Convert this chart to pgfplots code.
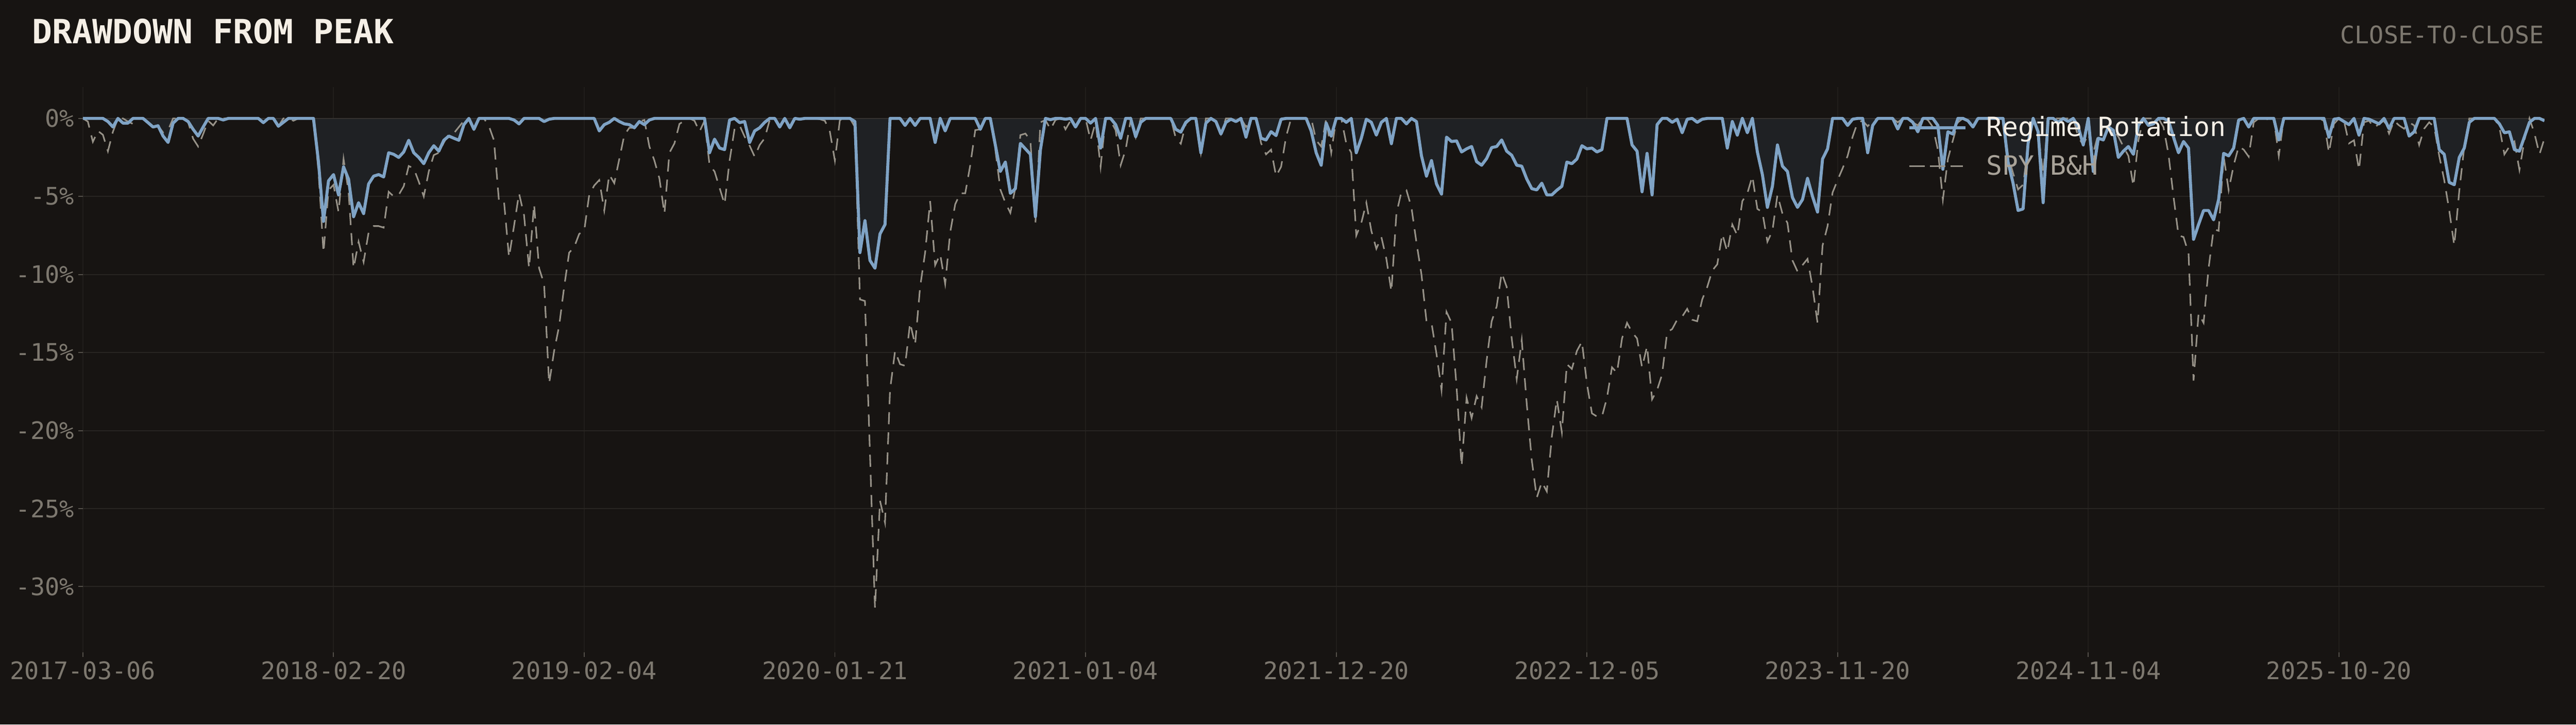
\documentclass[border=0pt]{standalone}
\usepackage{fontspec}
\setmainfont{DejaVu Sans Mono}
\usepackage{pgfplots}
\pgfplotsset{compat=1.18}
\usepackage{pgfplotstable}
\definecolor{bg}{HTML}{171412}
\definecolor{blueline}{HTML}{7FA3C5}
\definecolor{bluefill}{HTML}{1F2124}
\definecolor{spy}{HTML}{979288}
\definecolor{hgrid}{HTML}{282522}
\definecolor{vgrid}{HTML}{211E1B}
\definecolor{zeroline}{HTML}{353230}
\definecolor{ticklab}{HTML}{7D786F}
\definecolor{cream}{HTML}{F5EFE6}
\definecolor{legspy}{HTML}{A8A298}

\pgfplotstableread[row sep=\\]{
b s\\
0 0\\ 0 -0.2\\ 0 -1.5\\ 0 -0.8\\ 0 -1.05\\ -0.2 -2.1\\ -0.55 -0.85\\ 0 0\\ -0.3 0\\ -0.3 -0.2\\
0 -0.35\\ 0 0\\ 0 0\\ -0.27 -0.27\\ -0.55 -0.55\\ -0.47 -0.47\\ -1.13 -0.9\\ -1.54 -0.75\\ -0.3 0\\ 0 0\\
0 0\\ -0.2 -0.25\\ -0.7 -1.3\\ -1.13 -1.8\\ -0.55 -1.0\\ 0 -0.15\\ 0 -0.45\\ 0 0\\ -0.1 0\\ 0 0\\
0 0\\ 0 0\\ 0 0\\ 0 0\\ 0 0\\ 0 0\\ -0.27 -0.27\\ 0 0\\ 0 0\\ -0.5 -0.5\\
-0.25 0\\ 0 0\\ 0 -0.15\\ 0 0\\ 0 0\\ 0 0\\ 0 0\\ -2.8 -3.4\\ -6.6 -8.6\\ -4.0 -4.6\\
-3.6 -4.25\\ -4.9 -6.0\\ -3.1 -2.6\\ -3.9 -4.7\\ -6.3 -9.6\\ -5.4 -7.9\\ -6.1 -9.2\\ -4.2 -7.3\\ -3.7 -6.9\\ -3.6 -6.9\\
-3.75 -7.0\\ -2.2 -4.7\\ -2.3 -5.0\\ -2.5 -4.9\\ -2.15 -4.35\\ -1.4 -3.05\\ -2.2 -3.2\\ -2.5 -4.05\\ -2.9 -5.0\\ -2.2 -3.4\\
-1.75 -2.35\\ -2.1 -2.2\\ -1.4 -1.55\\ -1.13 -1.0\\ -1.27 -0.95\\ -1.4 -0.55\\ -0.4 -0.15\\ 0 0\\ -0.7 -0.7\\ 0 0\\
0 0\\ 0 -0.5\\ 0 -1.4\\ 0 -5.3\\ 0 -5.3\\ 0 -8.9\\ -0.1 -6.9\\ -0.35 -4.8\\ 0 -6.2\\ 0 -9.6\\
0 -5.5\\ 0 -9.6\\ -0.2 -10.6\\ -0.05 -17.0\\ 0 -14.9\\ 0 -13.3\\ 0 -10.8\\ 0 -8.6\\ 0 -8.25\\ 0 -7.4\\
0 -7.2\\ 0 -4.9\\ 0 -4.3\\ -0.8 -3.95\\ -0.4 -5.9\\ -0.25 -3.6\\ 0 -4.15\\ -0.2 -2.6\\ -0.35 -1.07\\ -0.4 -0.6\\
-0.6 -0.6\\ -0.2 -0.2\\ -0.4 -0.1\\ -0.1 -1.8\\ 0 -2.7\\ 0 -3.85\\ 0 -6.1\\ 0 -2.2\\ 0 -1.6\\ 0 -0.35\\
0 -0.15\\ 0 0\\ 0 -0.15\\ 0 -0.85\\ 0 -0.15\\ -2.2 -3.0\\ -1.33 -3.4\\ -1.9 -4.45\\ -2.0 -5.5\\ -0.1 -2.7\\
0 -0.65\\ -0.27 -0.45\\ -0.2 -1.17\\ -1.54 -1.75\\ -0.8 -2.45\\ -0.6 -1.7\\ -0.25 -1.27\\ 0 -0.1\\ 0 0\\ -0.55 -0.55\\
0 0\\ -0.6 -0.6\\ 0 0\\ -0.05 0\\ 0 0\\ 0 0\\ 0 0\\ 0 -0.05\\ 0 -0.15\\ 0 -0.85\\
0 -2.7\\ 0 -0.1\\ 0 0\\ 0 0\\ -0.2 -0.55\\ -8.6 -11.6\\ -6.55 -11.7\\ -9.1 -21.5\\ -9.6 -31.4\\ -7.4 -24.5\\
-6.8 -25.9\\ 0 -17.4\\ 0 -14.9\\ 0 -15.75\\ -0.45 -15.85\\ 0 -13.1\\ -0.45 -14.5\\ 0 -10.8\\ 0 -8.6\\ 0 -5.3\\
-1.54 -9.4\\ 0 -8.7\\ -0.8 -10.6\\ 0 -7.3\\ 0 -5.5\\ 0 -4.8\\ 0 -4.8\\ 0 -3.0\\ 0 -0.75\\ -0.7 -0.7\\
0 0\\ 0 0\\ -1.7 -2.0\\ -3.4 -4.55\\ -2.8 -5.4\\ -4.8 -6.05\\ -4.5 -4.45\\ -1.6 -1.07\\ -1.95 -0.97\\ -2.3 -1.4\\
-6.3 -6.7\\ -2.0 -0.25\\ 0 -0.1\\ -0.08 -0.7\\ 0 -0.1\\ 0 0\\ -0.05 -0.7\\ 0 -0.15\\ -0.55 -0.55\\ 0 0\\
0 0\\ -0.3 -1.4\\ 0 -0.25\\ -1.9 -3.1\\ 0 0\\ 0 -0.15\\ -0.4 -0.75\\ -1.27 -3.0\\ 0 -2.0\\ 0 -0.1\\
-1.17 -1.2\\ -0.25 0\\ 0 0\\ 0 0\\ 0 0\\ 0 0\\ 0 0\\ 0 0\\ -0.7 -1.27\\ -0.88 -1.62\\
-0.25 -0.35\\ 0 0\\ 0 0\\ -2.2 -2.2\\ -0.3 0\\ 0 0\\ -0.2 -0.15\\ -1.0 -1.0\\ -0.25 0\\ -0.05 0\\
-0.2 -0.15\\ 0 0\\ -1.2 -0.55\\ 0 0\\ 0 0\\ -1.27 -1.58\\ -1.38 -2.3\\ -0.85 -2.0\\ -1.1 -3.7\\ -0.05 -3.1\\
0 -1.17\\ 0 0\\ 0 0\\ 0 0\\ 0 0\\ -0.8 0\\ -2.2 -1.4\\ -3.0 -1.8\\ -0.3 0\\ -1.13 -2.2\\
0 0\\ 0 0\\ -0.25 -1.6\\ 0 -2.2\\ -2.2 -7.5\\ -1.27 -6.7\\ -0.05 -5.4\\ -0.25 -7.2\\ -1.07 -8.35\\ -0.25 -7.6\\
0 -9.0\\ -1.62 -11.1\\ 0 -6.1\\ 0 -4.7\\ -0.35 -4.6\\ 0 -5.7\\ -0.2 -7.95\\ -2.4 -10.0\\ -3.7 -13.0\\ -2.7 -13.1\\
-4.2 -15.1\\ -4.85 -17.4\\ -1.2 -12.4\\ -1.48 -13.1\\ -1.44 -17.2\\ -2.15 -22.3\\ -1.95 -17.9\\ -1.8 -19.2\\ -2.77 -17.8\\ -3.0 -18.5\\
-2.57 -15.5\\ -1.87 -13.0\\ -1.8 -12.05\\ -1.38 -9.9\\ -2.1 -10.8\\ -2.36 -14.1\\ -3.0 -16.7\\ -3.06 -14.2\\ -3.88 -18.3\\ -4.5 -21.9\\
-4.58 -24.3\\ -4.15 -23.3\\ -4.9 -23.9\\ -4.9 -20.4\\ -4.6 -18.0\\ -4.35 -20.1\\ -2.8 -15.75\\ -2.9 -16.05\\ -2.6 -14.9\\ -1.75 -14.3\\
-1.95 -17.0\\ -1.9 -18.9\\ -2.15 -19.1\\ -2.0 -19.1\\ 0 -17.9\\ 0 -15.95\\ 0 -16.3\\ 0 -14.1\\ 0 -13.1\\ -1.7 -13.7\\
-2.1 -14.1\\ -4.7 -15.95\\ -2.24 -14.6\\ -4.9 -18.0\\ -0.4 -17.4\\ 0 -16.4\\ 0 -13.7\\ -0.25 -13.5\\ -0.05 -12.9\\ -0.92 -12.7\\
-0.05 -12.2\\ 0 -12.9\\ -0.25 -13.0\\ -0.05 -11.6\\ 0 -10.8\\ 0 -9.75\\ 0 -9.35\\ 0 -7.4\\ -1.9 -8.55\\ -0.2 -6.8\\
-1.07 -7.5\\ 0 -5.3\\ -0.92 -4.8\\ 0 -3.7\\ -2.15 -5.8\\ -3.6 -6.0\\ -5.7 -7.9\\ -4.35 -7.2\\ -1.7 -4.9\\ -3.06 -6.1\\
-3.4 -6.7\\ -5.07 -9.1\\ -5.7 -9.8\\ -5.2 -9.4\\ -3.84 -9.0\\ -5.0 -10.8\\ -6.0 -13.1\\ -2.6 -8.15\\ -1.95 -6.9\\ 0 -4.75\\
0 -3.95\\ 0 -3.2\\ -0.45 -2.4\\ -0.05 -1.17\\ 0 -0.25\\ 0 -0.15\\ -2.2 -0.5\\ -0.45 -0.15\\ 0 0\\ 0 0\\
0 0\\ 0 0\\ -0.68 -0.25\\ 0 0\\ 0 0\\ -0.25 -0.25\\ -0.86 -0.45\\ 0 0\\ 0 -0.1\\ 0 -0.55\\
-0.45 -2.0\\ -3.26 -5.2\\ -0.86 -2.6\\ -1.0 -1.4\\ 0 -0.25\\ 0 0\\ -0.15 -0.15\\ -0.55 -0.45\\ 0 0\\ 0 0\\
0 0\\ 0 0\\ 0 0\\ 0 0\\ -2.8 -2.4\\ -4.15 -3.5\\ -5.9 -4.55\\ -5.8 -4.25\\ -1.6 -1.8\\ 0 0\\
-0.86 -0.86\\ -5.4 -3.6\\ 0 0\\ 0 0\\ -0.25 0\\ 0 0\\ -0.2 0\\ 0 0\\ -0.55 -1.2\\ -1.7 -1.7\\
0 -1.0\\ -3.4 -2.2\\ -1.27 -1.0\\ -1.38 -0.55\\ -0.55 -0.55\\ -0.76 -0.76\\ -2.5 -1.17\\ -2.1 -1.8\\ -1.8 -2.4\\ -2.3 -4.35\\
-0.45 -1.4\\ 0 0\\ -0.45 0\\ -0.35 0\\ 0 0\\ 0 -0.55\\ -0.15 -2.3\\ -1.2 -5.0\\ -2.2 -7.5\\ -1.48 -7.6\\
-1.9 -8.65\\ -7.75 -16.8\\ -6.8 -12.5\\ -5.9 -13.1\\ -5.9 -9.6\\ -6.5 -7.1\\ -5.2 -7.2\\ -2.24 -2.4\\ -2.4 -4.6\\ -1.9 -3.0\\
-0.1 -1.8\\ 0 -2.0\\ -0.55 -2.45\\ 0 -0.25\\ 0 0\\ 0 -0.15\\ 0 0\\ 0 0\\ -1.38 -2.4\\ 0 0\\
0 0\\ 0 0\\ 0 0\\ 0 0\\ 0 0\\ 0 0\\ 0 0\\ 0 -0.15\\ -1.2 -2.2\\ -0.05 -0.35\\
0 0\\ -0.2 -0.15\\ -0.4 -1.6\\ 0 -1.4\\ -1.07 -3.3\\ 0 -0.25\\ -0.05 -0.15\\ -0.2 -0.6\\ -0.35 -0.35\\ 0 -0.15\\
-0.66 -0.97\\ 0 -0.15\\ 0 -0.45\\ 0 -0.66\\ -1.13 -0.25\\ -0.86 -0.45\\ 0 -1.7\\ 0 -0.66\\ 0 -0.25\\ 0 -0.55\\
-2.0 -2.4\\ -2.3 -3.95\\ -4.1 -5.9\\ -4.25 -8.15\\ -2.5 -4.65\\ -1.9 -1.8\\ -0.25 0\\ 0 0\\ 0 0\\ 0 0\\
0 0\\ 0 0\\ -0.35 -0.55\\ -0.92 -2.3\\ -0.86 -1.8\\ -2.0 -1.48\\ -2.1 -3.3\\ -1.17 -1.4\\ -0.25 0\\ 0 -0.97\\
0 -2.3\\ -0.15 -1.27\\
}\dd

\begin{document}
\begin{tikzpicture}[x=1pt,y=1pt]
\fill[bg] (0,0) rectangle (768,216);
\useasboundingbox (0,0) rectangle (768,216);
\node[anchor=base west, font=\fontsize{9.95}{11}\selectfont\bfseries, text=cream, inner sep=0pt] at (9.4,203) {DRAWDOWN FROM PEAK};
\node[anchor=base east, font=\fontsize{7.2}{8.5}\selectfont, text=ticklab, inner sep=0pt] at (758.6,203) {CLOSE-TO-CLOSE};
\begin{axis}[
  at={(24.7pt,21.6pt)}, anchor=south west,
  scale only axis, width=733.9pt, height=168.4pt,
  xmin=0, xmax=491, ymin=-34.2, ymax=2,
  axis line style={draw=none},
  xtick={0,50,100,150,200,250,300,350,400,450},
  xticklabels={2017-03-06,2018-02-20,2019-02-04,2020-01-21,2021-01-04,2021-12-20,2022-12-05,2023-11-20,2024-11-04,2025-10-20},
  ytick={-30,-25,-20,-15,-10,-5,0},
  yticklabels={-30\%,-25\%,-20\%,-15\%,-10\%,-5\%,0\%},
  xtick pos=lower, ytick pos=left,
  tick align=outside, major tick length=1.4pt,
  tick style={color=ticklab!60!bg, line width=0.3pt},
  ticklabel style={font=\fontsize{7.2}{8.5}\selectfont, text=ticklab, inner sep=0pt},
  yticklabel style={anchor=east}, xticklabel style={anchor=north},
  xticklabel shift=1.2pt, yticklabel shift=1pt,
  xmajorgrids, ymajorgrids,
  x grid style={vgrid, line width=0.3pt},
  y grid style={hgrid, line width=0.3pt},
  legend style={at={(axis description cs:0.7414,0.9543)}, anchor=north west,
    draw=none, fill=none, inner sep=0pt, outer sep=0pt,
    font=\fontsize{7.9}{9}\selectfont,
    nodes={inner sep=0pt, outer sep=0pt, text height=7.0pt, text depth=1.7pt},
    column sep=5.8pt, row sep=2.8pt},
  legend cell align=left,
  reverse legend,
  legend image code/.code={\draw[#1] (0pt,0pt) -- (16.7pt,0pt);},
]
\addplot[fill=bluefill, draw=none, forget plot] table[x expr=\coordindex, y=b]{\dd} \closedcycle;
\draw[zeroline, line width=0.35pt] (axis cs:0,0) -- (axis cs:491,0);
\addplot[spy, line width=0.47pt, dash pattern=on 3.6pt off 2.4pt,
  legend image code/.code={\draw[spy, line width=0.53pt, dash pattern=on 4.6pt off 1.5pt] (0pt,0pt) -- (16pt,0pt);}]
  table[x expr=\coordindex, y=s]{\dd};
\addlegendentry{\textcolor{legspy}{SPY B\&H}}
\addplot[blueline, line width=0.9pt, line join=round] table[x expr=\coordindex, y=b]{\dd};
\addlegendentry{\textcolor{cream}{Regime Rotation}}
\end{axis}
\end{tikzpicture}
\end{document}
